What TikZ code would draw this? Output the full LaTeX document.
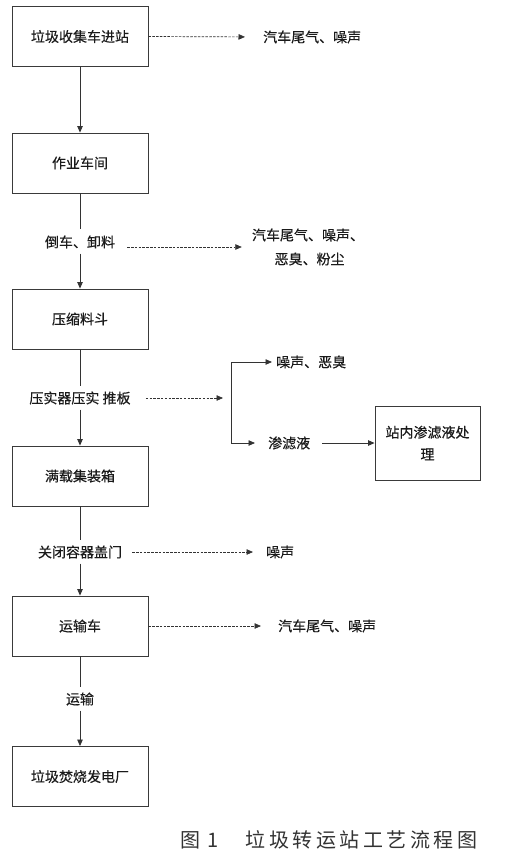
\documentclass[tikz,border=0pt]{standalone}
\usepackage{fontspec}
\newfontfamily\cjk[FakeBold=0.4]{Noto Sans CJK SC}
\newfontfamily\cjkcap{Noto Sans CJK SC}
\usetikzlibrary{arrows.meta}
\definecolor{boxgray}{HTML}{3A3A3A}
\definecolor{linegray}{HTML}{333333}
\definecolor{txt}{HTML}{1A1A1A}
\newcommand{\capsp}{\hspace{3.5pt}}
\begin{document}
\begin{tikzpicture}[x=1pt,y=-1pt,
  box/.style={draw=boxgray, line width=0.9pt, minimum width=136pt, minimum height=60pt,
    inner sep=0pt, font=\cjk\fontsize{14}{22}\selectfont, text=txt, align=center},
  lab/.style={inner sep=0pt, font=\cjk\fontsize{14}{24}\selectfont, text=txt, align=center},
  flow/.style={draw=linegray, line width=0.8pt, -{Triangle[length=6.5pt,width=5.5pt]}},
  plainline/.style={draw=linegray, line width=0.8pt},
  dasharrow/.style={draw=linegray, line width=0.7pt, dash pattern=on 2.5pt off 1.3pt,
    -{Triangle[length=6.5pt,width=5.5pt]}}
]
\useasboundingbox (0,0) rectangle (516,860);

% main column
\node[box] (b1) at (80,36.5) {垃圾收集车进站};
\node[box] (b2) at (80,163) {作业车间};
\node[lab] (l1) at (80,242) {倒车、卸料};
\node[box] (b3) at (80,319) {压缩料斗};
\node[lab] (l2) at (80,398) {压实器压实 推板};
\node[box] (b4) at (80,476) {满载集装箱};
\node[lab] (l3) at (80,552) {关闭容器盖门};
\node[box] (b5) at (80,626) {运输车};
\node[lab] (l4) at (80,699) {运输};
\node[box] (b6) at (80,776.5) {垃圾焚烧发电厂};

% side outputs
\node[lab, anchor=west] (e1) at (263,37) {汽车尾气、噪声};
\node[lab] (e2) at (308,247) {汽车尾气、噪声、\\\ 恶臭、粉尘};
\node[lab, anchor=west] (n1) at (276,362) {噪声、恶臭};
\node[lab, anchor=west] (n2) at (268,443) {渗滤液};
\node[box, minimum width=105pt, minimum height=74pt] (b7) at (427.5,443) {站内渗滤液处\\理};
\node[lab, anchor=west] (n3) at (266,552) {噪声};
\node[lab, anchor=west] (e5) at (278,626) {汽车尾气、噪声};
\coordinate (br) at (231,398);

% vertical flow
\draw[flow] (b1.south) -- (b2.north);
\draw[plainline, shorten >=6pt] (b2.south) -- (l1.north);
\draw[flow, shorten <=5pt] (l1.south) -- (b3.north);
\draw[plainline, shorten >=5pt] (b3.south) -- (l2.north);
\draw[flow, shorten <=5pt] (l2.south) -- (b4.north);
\draw[plainline, shorten >=5pt] (b4.south) -- (l3.north);
\draw[flow, shorten <=5pt] (l3.south) -- (b5.north);
\draw[plainline, shorten >=5pt] (b5.south) -- (l4.north);
\draw[flow, shorten <=5pt] (l4.south) -- (b6.north);

% side arrows
\draw[dasharrow, shorten >=18pt] (b1.east) -- (e1.west);
\draw[dasharrow, shorten <=12pt, shorten >=10pt] (l1.east |- e2.west) -- (e2.west);
\draw[dasharrow, shorten <=15pt, shorten >=8pt] (l2.east) -- (br);
\draw[flow, shorten >=4pt] (br) |- (n1.west);
\draw[flow, shorten >=13pt] (br) |- (n2.west);
\draw[flow, shorten <=12pt] (n2.east) -- (b7.west);
\draw[dasharrow, shorten <=10pt, shorten >=13pt] (l3.east) -- (n3.west);
\draw[dasharrow, shorten >=17pt] (b5.east) -- (e5.west);

% caption
\node[inner sep=0pt, font=\cjkcap\fontsize{20}{24}\selectfont, text=linegray] (cap) at (329,840)
  {图\hspace{7pt}1\hspace{27pt}垃\capsp 圾\capsp 转\capsp 运\capsp 站\capsp 工\capsp 艺\capsp 流\capsp 程\capsp 图};
\end{tikzpicture}
\end{document}
